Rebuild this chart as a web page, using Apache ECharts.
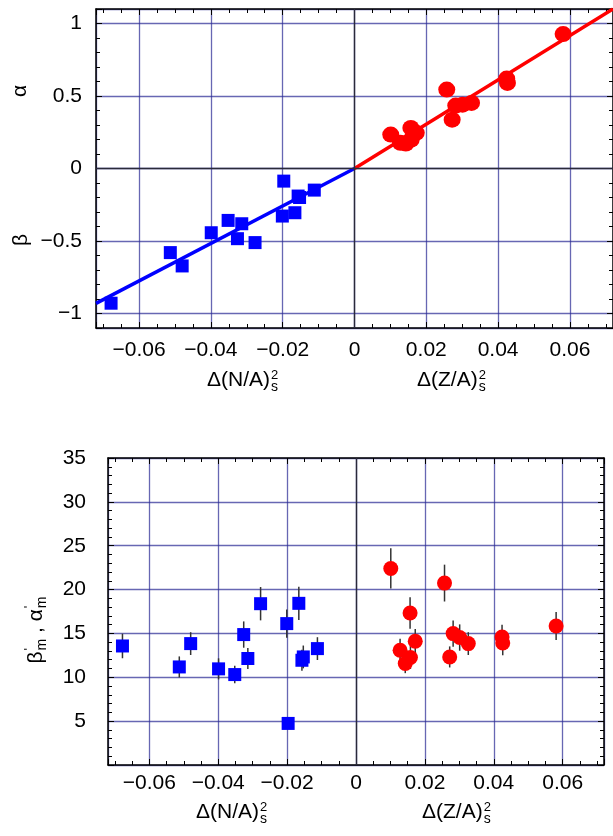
<!DOCTYPE html>
<html>
<head>
<meta charset="utf-8">
<script src="https://cdn.jsdelivr.net/npm/echarts@6/dist/echarts.min.js"></script>
<style>
html,body{margin:0;padding:0;background:#fff;}
#chart{width:613px;height:836px;}
</style>
</head>
<body>
<div id="chart"></div>
<script>
// ---- data ----
const xN = [-0.0678, -0.0513, -0.0480, -0.0399, -0.0352, -0.0326, -0.0314, -0.0277, -0.0201, -0.0197, -0.0166, -0.0157, -0.0153, -0.0112];
const betaN = [-0.929, -0.580, -0.672, -0.443, -0.358, -0.484, -0.381, -0.511, -0.328, -0.087, -0.305, -0.190, -0.200, -0.149];
const betaPrime = [13.57, 11.18, 13.84, 10.96, 10.31, 14.87, 12.14, 18.39, 16.12, 4.74, 18.43, 11.94, 12.32, 13.27];
const betaPrimeErr = [1.4, 1.2, 1.3, 1.2, 1.0, 1.5, 1.2, 1.9, 1.6, 0.3, 1.9, 1.2, 1.3, 1.3];

const xZ = [0.0101, 0.0128, 0.0143, 0.0157, 0.0158, 0.0172, 0.0257, 0.0272, 0.0282, 0.0301, 0.0326, 0.0424, 0.0426, 0.0581];
const alphaZ = [0.234, 0.177, 0.172, 0.280, 0.200, 0.246, 0.544, 0.337, 0.434, 0.440, 0.452, 0.620, 0.590, 0.927];
const alphaPrime = [22.41, 13.08, 11.57, 17.33, 12.25, 14.11, 20.74, 12.32, 14.98, 14.53, 13.84, 14.60, 13.91, 15.85];
const alphaPrimeErr = [2.3, 1.3, 1.1, 1.8, 1.3, 1.4, 2.1, 1.2, 1.5, 1.5, 1.3, 1.4, 1.4, 1.6];

const blueFitX = [-0.072, 0];
const blueFitY = [-0.93, 0];
const redFitX = [0, 0.072];
const redFitY = [0, 1.10];

const xRange = [-0.072, 0.072];
const yTopRange = [-1.1, 1.1];
const yBotRange = [0, 35];

const xNameN = 'Δ(N/A)';
const xNameZ = 'Δ(Z/A)';
// ---------------------------------------

const FONT = 'Liberation Sans';
const FS = 21;
const BLUE = '#0000ff', RED = '#ff0000';
const GRIDC = 'rgba(45,45,150,0.72)';

function fmt(v) {
  const a = Math.abs(v);
  const s = String(+a.toFixed(3));
  return (v < -1e-12 ? '\u2212' : '') + s;
}

function xAxisCfg(gridIndex, main, margin) {
  return {
    type: 'value', gridIndex: gridIndex, position: main ? 'bottom' : 'top',
    min: xRange[0], max: xRange[1], splitNumber: 7,
    axisLine: { show: true, onZero: false, lineStyle: { color: '#000', width: 1.5 } },
    axisTick: { show: true, inside: true, length: 6, lineStyle: { color: '#000', width: 1 } },
    minorTick: { show: true, splitNumber: 4, length: 4, lineStyle: { color: '#000', width: 1 } },
    axisLabel: { show: main, showMinLabel: false, showMaxLabel: false, margin: margin, formatter: fmt,
      color: '#000', fontSize: FS, fontFamily: FONT },
    splitLine: { show: main, lineStyle: { color: GRIDC, width: 1.3 } }
  };
}
function yAxisCfg(gridIndex, main, range, extra, margin, showMin, showMax) {
  return Object.assign({
    type: 'value', gridIndex: gridIndex, position: main ? 'left' : 'right',
    min: range[0], max: range[1],
    axisLine: { show: true, onZero: false, lineStyle: { color: '#000', width: 1.5 } },
    axisTick: { show: true, inside: true, length: 6, lineStyle: { color: '#000', width: 1 } },
    minorTick: { show: true, splitNumber: 5, length: 4, lineStyle: { color: '#000', width: 1 } },
    axisLabel: { show: main, showMinLabel: showMin, showMaxLabel: showMax, margin: margin, formatter: fmt,
      color: '#000', fontSize: FS, fontFamily: FONT },
    splitLine: { show: main, lineStyle: { color: GRIDC, width: 1.3 } }
  }, extra);
}

const zeroMark = (withY) => ({
  silent: true, symbol: 'none', animation: false,
  label: { show: false },
  lineStyle: { color: '#2a2a3a', width: 1.4, type: 'solid' },
  data: withY ? [{ xAxis: 0 }, { yAxis: 0 }] : [{ xAxis: 0 }]
});

function errRender(params, api) {
  const x = api.value(0), y = api.value(1), e = api.value(2);
  const p1 = api.coord([x, y - e]);
  const p2 = api.coord([x, y + e]);
  return { type: 'line', shape: { x1: p1[0], y1: p1[1], x2: p2[0], y2: p2[1] },
    style: { stroke: '#333', lineWidth: 1.5 } };
}

const measureCtx = document.createElement('canvas').getContext('2d');
function tw(text, size) {
  measureCtx.font = size + 'px "' + FONT + '"';
  return measureCtx.measureText(text).width;
}

function xNameGroup(x, y, main) {
  const w = tw(main, FS);
  return {
    type: 'group', x: x, y: y, silent: true,
    children: [
      { type: 'text', x: 0, y: 0, style: { text: main, font: FS + 'px "' + FONT + '"', fill: '#000', verticalAlign: 'middle', align: 'left' } },
      { type: 'text', x: w + 1, y: -5, style: { text: '2', font: '13px "' + FONT + '"', fill: '#000', verticalAlign: 'middle', align: 'left' } },
      { type: 'text', x: w + 1, y: 7, style: { text: 's', font: '14px "' + FONT + '"', fill: '#000', verticalAlign: 'middle', align: 'left' } }
    ]
  };
}

function yRotText(x, y, text) {
  return { type: 'text', x: x, y: y, rotation: Math.PI / 2, silent: true,
    style: { text: text, font: FS + 'px "' + FONT + '"', fill: '#000', align: 'center', verticalAlign: 'middle' } };
}

function yPrimeName(cx, cy) {
  const parts = [];
  const wb = tw('β', FS), wm = tw('m', 14), ws = tw(' , α', FS);
  const total = wb + wm + 1 + ws + wm + 1;
  let px = -total / 2;
  const add = (t, size, dy, adv) => {
    parts.push({ type: 'text', x: px, y: dy, style: { text: t, font: size + 'px "' + FONT + '"', fill: '#000', align: 'left', verticalAlign: 'middle' } });
    if (adv) px += adv;
  };
  add('β', FS, 0, wb + 1);
  add("'", 13, -7, 0);
  add('m', 14, 6, wm);
  add(' , α', FS, 0, ws + 1);
  add("'", 13, -7, 0);
  add('m', 14, 6, wm);
  return { type: 'group', x: cx, y: cy, rotation: Math.PI / 2, silent: true, children: parts };
}

const chart = echarts.init(document.getElementById('chart'), null, { renderer: 'canvas' });

const option = {
  animation: false,
  backgroundColor: '#fff',
  grid: [
    { left: 96, top: 9, width: 520, height: 319 },
    { left: 108, top: 458, width: 496, height: 307 }
  ],
  xAxis: [
    xAxisCfg(0, true, 12),
    xAxisCfg(0, false, 8),
    xAxisCfg(1, true, 8),
    xAxisCfg(1, false, 8)
  ],
  yAxis: [
    yAxisCfg(0, true, yTopRange, { splitNumber: 5 }, 14, false, false),
    yAxisCfg(0, false, yTopRange, { splitNumber: 5 }, 8, false, false),
    yAxisCfg(1, true, yBotRange, { interval: 5 }, 22, false, true),
    yAxisCfg(1, false, yBotRange, { interval: 5 }, 8, false, true)
  ],
  series: [
    { type: 'line', xAxisIndex: 0, yAxisIndex: 0, z: 3, symbol: 'none',
      data: blueFitX.map((x, i) => [x, blueFitY[i]]),
      lineStyle: { color: BLUE, width: 3.5 }, markLine: zeroMark(true) },
    { type: 'line', xAxisIndex: 0, yAxisIndex: 0, z: 3, symbol: 'none',
      data: redFitX.map((x, i) => [x, redFitY[i]]),
      lineStyle: { color: RED, width: 3.5 } },
    { type: 'scatter', xAxisIndex: 0, yAxisIndex: 0, z: 5, symbol: 'rect', symbolSize: 13,
      data: xN.map((x, i) => [x, betaN[i]]), itemStyle: { color: BLUE, opacity: 1 } },
    { type: 'scatter', xAxisIndex: 0, yAxisIndex: 0, z: 5, symbol: 'circle', symbolSize: [17, 16],
      data: xZ.map((x, i) => [x, alphaZ[i]]), itemStyle: { color: RED, opacity: 1 } },

    { type: 'custom', xAxisIndex: 2, yAxisIndex: 2, z: 4, renderItem: errRender,
      data: xN.map((x, i) => [x, betaPrime[i], betaPrimeErr[i]]), encode: { x: 0, y: 1 },
      markLine: zeroMark(false) },
    { type: 'custom', xAxisIndex: 2, yAxisIndex: 2, z: 4, renderItem: errRender,
      data: xZ.map((x, i) => [x, alphaPrime[i], alphaPrimeErr[i]]), encode: { x: 0, y: 1 } },
    { type: 'scatter', xAxisIndex: 2, yAxisIndex: 2, z: 5, symbol: 'rect', symbolSize: 13,
      data: xN.map((x, i) => [x, betaPrime[i]]), itemStyle: { color: BLUE, opacity: 1 } },
    { type: 'scatter', xAxisIndex: 2, yAxisIndex: 2, z: 5, symbol: 'circle', symbolSize: 15,
      data: xZ.map((x, i) => [x, alphaPrime[i]]), itemStyle: { color: RED, opacity: 1 } }
  ],
  graphic: [
    xNameGroup(207, 380, xNameN),
    xNameGroup(417, 380, xNameZ),
    xNameGroup(196, 812, xNameN),
    xNameGroup(422, 812, xNameZ),
    yRotText(20, 91, 'α'),
    yRotText(21, 240, 'β'),
    yPrimeName(36, 630)
  ]
};
chart.setOption(option);
</script>
</body>
</html>
